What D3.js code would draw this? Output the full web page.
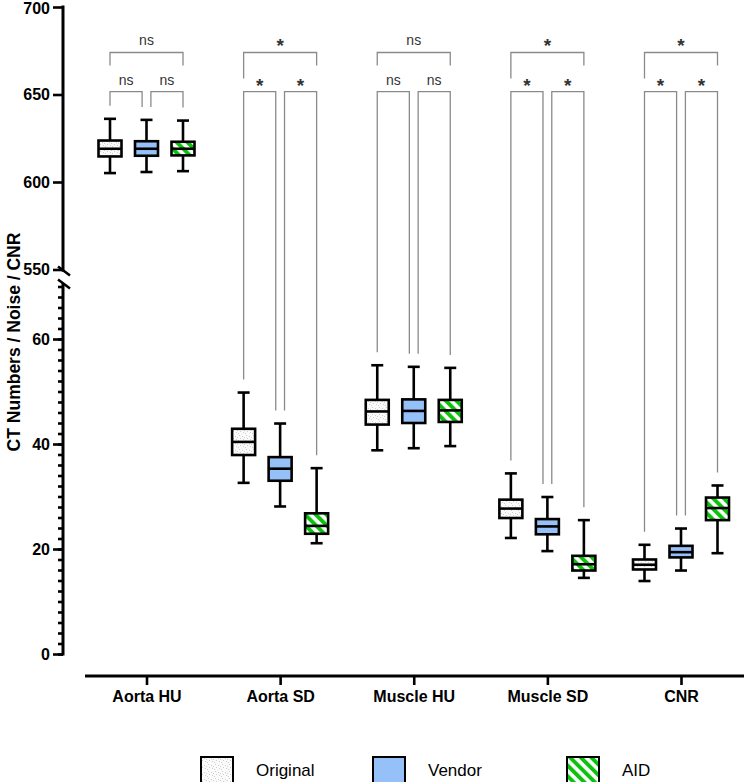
<!DOCTYPE html>
<html>
<head>
<meta charset="utf-8">
<script src="https://cdn.jsdelivr.net/npm/d3@7"></script>
<style>
  html, body { margin: 0; padding: 0; background: #fff; }
  svg { display: block; }
</style>
</head>
<body>
<svg id="chart" width="744" height="782"></svg>
<script>
// ---------------- DATA ----------------
const categories = ["Aorta HU", "Aorta SD", "Muscle HU", "Muscle SD", "CNR"];
const seriesNames = ["Original", "Vendor", "AID"];

const originalMin = [605.1, 32.6, 38.8, 22.1, 13.9];
const originalQ1  = [614.6, 37.9, 43.7, 25.9, 16.1];
const originalMed = [619.0, 40.4, 46.2, 27.7, 17.0];
const originalQ3  = [623.7, 42.9, 48.4, 29.4, 18.0];
const originalMax = [636.1, 49.8, 55.0, 34.4, 20.8];

const vendorMin = [605.7, 28.1, 39.2, 19.6, 15.9];
const vendorQ1  = [615.0, 33.0, 44.0, 22.8, 18.4];
const vendorMed = [619.0, 35.3, 46.3, 24.3, 19.4];
const vendorQ3  = [623.3, 37.5, 48.5, 25.7, 20.6];
const vendorMax = [635.5, 43.9, 54.7, 29.9, 23.9];

const aidMin = [606.2, 21.1, 39.6, 14.5, 19.2];
const aidQ1  = [615.2, 22.9, 44.2, 15.9, 25.5];
const aidMed = [619.0, 24.4, 46.4, 17.1, 27.8];
const aidQ3  = [623.0, 26.8, 48.4, 18.7, 29.8];
const aidMax = [635.1, 35.4, 54.5, 25.5, 32.1];

// significance: Original vs Vendor, Vendor vs AID, Original vs AID
const sigOrigVendor = ["ns", "*", "ns", "*", "*"];
const sigVendorAid  = ["ns", "*", "ns", "*", "*"];
const sigOrigAid    = ["ns", "*", "ns", "*", "*"];

const yTicksUpper = [550, 600, 650, 700];
const yTicksLower = [0, 20, 40, 60];
const yTitle = "CT Numbers / Noise / CNR";

// ---------------- BUILD ----------------
const stats = [
  {min: originalMin, q1: originalQ1, med: originalMed, q3: originalQ3, max: originalMax},
  {min: vendorMin, q1: vendorQ1, med: vendorMed, q3: vendorQ3, max: vendorMax},
  {min: aidMin, q1: aidQ1, med: aidMed, q3: aidQ3, max: aidMax}
];
const boxes = [];
categories.forEach((c, ci) => {
  seriesNames.forEach((s, si) => {
    const st = stats[si];
    boxes.push({cat: c, ci, series: s, si,
      min: st.min[ci], q1: st.q1[ci], med: st.med[ci], q3: st.q3[ci], max: st.max[ci]});
  });
});

const svg = d3.select("#chart");
const FONT = "'Liberation Sans', Arial, Helvetica, sans-serif";

// patterns
const defs = svg.append("defs");
const dots = defs.append("pattern").attr("id", "stipple")
  .attr("patternUnits", "userSpaceOnUse").attr("width", 7).attr("height", 7);
dots.append("rect").attr("width", 7).attr("height", 7).attr("fill", "#fafafa");
[[1,1],[4,2],[2,4],[5,5],[0,6],[6,3]].forEach(p => {
  dots.append("rect").attr("x", p[0]).attr("y", p[1]).attr("width", 1).attr("height", 1).attr("fill", "#cfcfcf");
});
const stripes = defs.append("pattern").attr("id", "stripes")
  .attr("patternUnits", "userSpaceOnUse").attr("width", 7.5).attr("height", 7.5)
  .attr("patternTransform", "rotate(-45)");
stripes.append("rect").attr("width", 7.5).attr("height", 7.5).attr("fill", "#ffffff");
stripes.append("rect").attr("width", 3.9).attr("height", 7.5).attr("fill", "#0cc20c");

const fills = {Original: "url(#stipple)", Vendor: "#96c0f8", AID: "url(#stripes)"};

// scales
const AXIS_X = 63;
const yUpper = d3.scaleLinear().domain([550, 700]).range([269.5, 7]);
const yLower = d3.scaleLinear().domain([0, 70]).range([654, 286.5]);
const yv = v => v >= 550 ? yUpper(v) : yLower(v);
const x = d3.scalePoint().domain(categories).range([146.5, 681]);
const off = d3.scalePoint().domain(seriesNames).range([-36.5, 36.5]);
const bx = d => x(d.cat) + off(d.series);

// ---------------- AXES ----------------
const yAxisG = svg.append("g").attr("transform", `translate(${AXIS_X},0)`);
const styleAxis = g => {
  g.select(".domain").remove();
  g.selectAll(".tick line").attr("stroke", "#000").attr("stroke-width", 2.6);
  g.selectAll(".tick text").attr("fill", "#000").attr("font-family", FONT)
    .attr("font-weight", "bold").attr("font-size", 16);
};
yAxisG.append("g").call(d3.axisLeft(yUpper).tickValues(yTicksUpper).tickSize(10).tickPadding(3)).call(styleAxis);
yAxisG.append("g").call(d3.axisLeft(yLower).tickValues(d3.range(0, 71, 2)).tickSize(5).tickFormat(""))
  .call(styleAxis);
yAxisG.append("g").call(d3.axisLeft(yLower).tickValues(yTicksLower).tickSize(10).tickPadding(3)).call(styleAxis);
// keep the top label inside the frame
yAxisG.selectAll(".tick text").filter(d => d === 700).attr("dy", "0.4em");

// axis lines with break
yAxisG.append("line").attr("x1", 0).attr("x2", 0).attr("y1", yUpper(700) - 1.5).attr("y2", 271.5)
  .attr("stroke", "#000").attr("stroke-width", 3);
yAxisG.append("line").attr("x1", 0).attr("x2", 0).attr("y1", 283).attr("y2", yLower(0) + 1.5)
  .attr("stroke", "#000").attr("stroke-width", 3);
[[266.5, 275.5], [279.5, 288.5]].forEach(p => {
  yAxisG.append("line").attr("x1", -5).attr("x2", 7).attr("y1", p[0]).attr("y2", p[1])
    .attr("stroke", "#000").attr("stroke-width", 2.6);
});

// y title
svg.append("text")
  .attr("transform", `translate(14,342) rotate(-90)`)
  .attr("text-anchor", "middle").attr("dominant-baseline", "central")
  .attr("font-family", FONT).attr("font-weight", "bold").attr("font-size", 17.5)
  .text(yTitle);

// x axis
const X_AXIS_Y = 676;
const xAxisG = svg.append("g").attr("transform", `translate(0,${X_AXIS_Y})`)
  .call(d3.axisBottom(x).tickSize(9).tickPadding(6));
xAxisG.select(".domain").remove();
xAxisG.selectAll(".tick line").attr("stroke", "#000").attr("stroke-width", 2.6);
xAxisG.selectAll(".tick text").attr("fill", "#000").attr("font-family", FONT)
  .attr("font-weight", "bold").attr("font-size", 16);
svg.append("line").attr("x1", 85).attr("x2", 744).attr("y1", X_AXIS_Y).attr("y2", X_AXIS_Y)
  .attr("stroke", "#000").attr("stroke-width", 3);

// ---------------- SIGNIFICANCE BRACKETS ----------------
const BR_COLOR = "#8a8a8a";
const OUTER_Y = 52.5, INNER_Y = 91.7, LEG_GAP = 13, VOFF = 4.4;
const brG = svg.append("g").attr("fill", "none").attr("stroke", BR_COLOR).attr("stroke-width", 1.3);
const labG = svg.append("g");
const addLabel = (xc, yBase, txt) => {
  const star = txt === "*";
  labG.append("text").attr("x", xc).attr("y", yBase + (star ? 7 : 0))
    .attr("text-anchor", "middle").attr("font-family", FONT)
    .attr("font-weight", star ? "bold" : "normal")
    .attr("font-size", star ? 19 : 14).attr("fill", "#333").text(txt);
};
categories.forEach((c, ci) => {
  const bo = boxes.find(b => b.ci === ci && b.si === 0);
  const bvd = boxes.find(b => b.ci === ci && b.si === 1);
  const ba = boxes.find(b => b.ci === ci && b.si === 2);
  const xo = bx(bo), xv = bx(bvd), xa = bx(ba);
  // outer bracket
  const leftLeg = sigOrigAid[ci] === "*" ? 26 : 13;
  brG.append("path").attr("d",
    `M${xo},${OUTER_Y + leftLeg}V${OUTER_Y}H${xa}V${OUTER_Y + 13}`);
  addLabel((xo + xa) / 2, 45, sigOrigAid[ci]);
  // inner brackets
  brG.append("path").attr("d",
    `M${xo},${yv(bo.max) - LEG_GAP}V${INNER_Y}H${xv - VOFF}V${yv(bvd.max) - LEG_GAP}`);
  brG.append("path").attr("d",
    `M${xv + VOFF},${yv(bvd.max) - LEG_GAP}V${INNER_Y}H${xa}V${yv(ba.max) - LEG_GAP}`);
  addLabel((xo + xv - VOFF) / 2, 84.5, sigOrigVendor[ci]);
  addLabel((xv + VOFF + xa) / 2, 84.5, sigVendorAid[ci]);
});

// ---------------- BOXES ----------------
const BOX_W = 23, CAP_W = 12;
const bg = svg.append("g").selectAll("g").data(boxes).join("g");
bg.append("line").attr("x1", bx).attr("x2", bx).attr("y1", d => yv(d.max)).attr("y2", d => yv(d.min))
  .attr("stroke", "#000").attr("stroke-width", 2.6);
bg.append("line").attr("x1", d => bx(d) - CAP_W / 2).attr("x2", d => bx(d) + CAP_W / 2)
  .attr("y1", d => yv(d.max)).attr("y2", d => yv(d.max)).attr("stroke", "#000").attr("stroke-width", 2.6);
bg.append("line").attr("x1", d => bx(d) - CAP_W / 2).attr("x2", d => bx(d) + CAP_W / 2)
  .attr("y1", d => yv(d.min)).attr("y2", d => yv(d.min)).attr("stroke", "#000").attr("stroke-width", 2.6);
bg.append("rect").attr("x", d => bx(d) - BOX_W / 2).attr("width", BOX_W)
  .attr("y", d => yv(d.q3)).attr("height", d => yv(d.q1) - yv(d.q3))
  .attr("fill", d => fills[d.series]).attr("stroke", "#000").attr("stroke-width", 2.6);
bg.append("line").attr("x1", d => bx(d) - BOX_W / 2).attr("x2", d => bx(d) + BOX_W / 2)
  .attr("y1", d => yv(d.med)).attr("y2", d => yv(d.med)).attr("stroke", "#000").attr("stroke-width", 2.6);

// ---------------- LEGEND ----------------
const legX = [200, 372, 566];
const lg = svg.append("g").selectAll("g").data(seriesNames).join("g")
  .attr("transform", (d, i) => `translate(${legX[i]},756)`);
lg.append("rect").attr("x", 1).attr("y", 1).attr("width", 32).attr("height", 26)
  .attr("fill", d => fills[d]).attr("stroke", "#000").attr("stroke-width", 2);
lg.append("text").attr("x", 56).attr("y", 20).attr("font-family", FONT).attr("font-size", 17)
  .attr("fill", "#000").text(d => d);
</script>
</body>
</html>
